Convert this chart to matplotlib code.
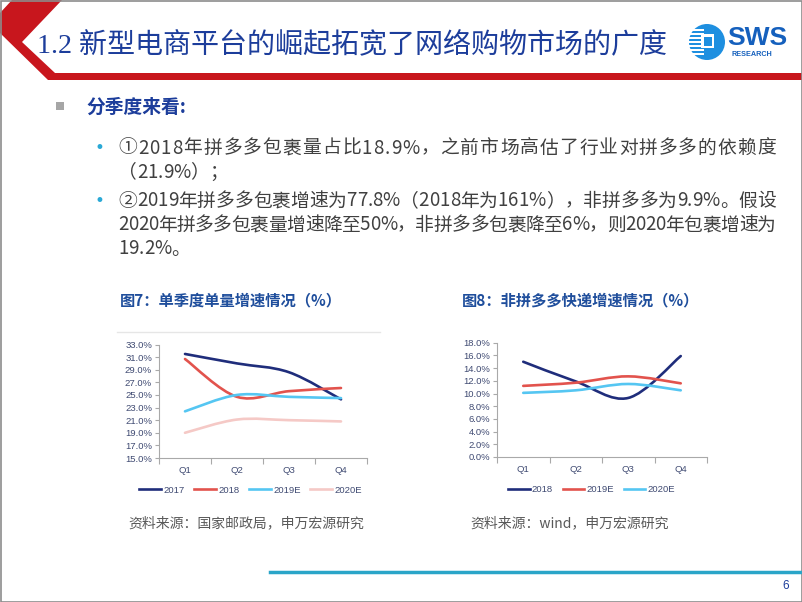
import numpy as np
import matplotlib
matplotlib.use("Agg")
import matplotlib.pyplot as plt
from matplotlib.path import Path
from matplotlib.patches import PathPatch, Polygon, Rectangle, Circle
from matplotlib.lines import Line2D
from matplotlib.font_manager import FontProperties, findfont, get_font

plt.rcParams['font.family'] = ['Noto Sans CJK SC', 'DejaVu Sans']

# ---- data ----
quarters = ["Q1", "Q2", "Q3", "Q4"]

# Fig 7: single-quarter parcel volume growth (%)
fig7_series = ["2017", "2018", "2019E", "2020E"]
fig7_2017 = [31.5, 30.0, 28.6, 24.3]
fig7_2018 = [30.7, 24.7, 25.6, 26.1]
fig7_2019e = [22.4, 25.0, 24.7, 24.5]
fig7_2020e = [19.0, 21.1, 21.0, 20.8]
fig7_ticks = [15, 17, 19, 21, 23, 25, 27, 29, 31, 33]

# Fig 8: non-Pinduoduo express growth (%)
fig8_series = ["2018", "2019E", "2020E"]
fig8_2018 = [15.0, 11.9, 9.3, 15.9]
fig8_2019e = [11.2, 11.7, 12.7, 11.6]
fig8_2020e = [10.1, 10.5, 11.5, 10.5]
fig8_ticks = [0, 2, 4, 6, 8, 10, 12, 14, 16, 18]

title = "1.2 新型电商平台的崛起拓宽了网络购物市场的广度"
heading = "分季度来看:"
body_lines = [
    "①2018年拼多多包裹量占比18.9%，之前市场高估了行业对拼多多的依赖度",
    "（21.9%）；",
    "②2019年拼多多包裹增速为77.8%（2018年为161%），非拼多多为9.9%。假设",
    "2020年拼多多包裹量增速降至50%，非拼多多包裹降至6%，则2020年包裹增速为",
    "19.2%。",
]
body_justify = [True, False, True, True, False]
fig7_title = "图7：单季度单量增速情况（%）"
fig8_title = "图8：非拼多多快递增速情况（%）"
src7 = "资料来源：国家邮政局，申万宏源研究"
src8 = "资料来源：wind，申万宏源研究"

NAVY = "#1f2d7b"
RED = "#e2534d"
CYAN = "#55c6f2"
PINK = "#f5c9c6"
TICK_C = "#3f4a72"
AXIS_C = "#a9a9a9"
BODY_SIZE = 13.5


def smooth_path(xs, ys):
    # Excel-like smoothed line: cubic Bezier segments through the points
    pts = np.column_stack([xs, ys]).astype(float)
    n = len(pts)
    verts = [pts[0]]
    codes = [Path.MOVETO]
    for i in range(n - 1):
        p0 = pts[max(i - 1, 0)]
        p1 = pts[i]
        p2 = pts[i + 1]
        p3 = pts[min(i + 2, n - 1)]
        verts += [p1 + (p2 - p0) / 6, p2 - (p3 - p1) / 6, p2]
        codes += [Path.CURVE4] * 3
    return Path(verts, codes)


def line_chart(ax, series, names, colors, ticks):
    x = np.arange(len(quarters)) + 0.5
    handles = []
    for vals, name, c in zip(series, names, colors):
        ax.add_patch(PathPatch(smooth_path(x, vals), fc="none", ec=c, lw=1.9,
                               capstyle="round", joinstyle="round"))
        handles.append(Line2D([0], [0], color=c, lw=1.9))
    ax.set_xlim(0, len(quarters))
    ax.set_ylim(ticks[0], ticks[-1])
    ax.set_yticks(ticks)
    ax.set_yticklabels([f"{t:.1f}%" for t in ticks], family="Liberation Sans",
                       fontsize=6.8, color=TICK_C)
    ax.set_xticks(x)
    ax.set_xticklabels(quarters, family="Liberation Sans", fontsize=6.8, color=TICK_C)
    ax.set_xticks(np.arange(len(quarters) + 1), minor=True)
    ax.tick_params(axis="x", which="major", length=0, pad=6)
    ax.tick_params(axis="x", which="minor", length=4, color=AXIS_C, width=0.8)
    ax.tick_params(axis="y", length=3, color=AXIS_C, width=0.8, pad=2)
    for s in ["top", "right"]:
        ax.spines[s].set_visible(False)
    for s in ["left", "bottom"]:
        ax.spines[s].set_color(AXIS_C)
        ax.spines[s].set_linewidth(0.8)
    ax.patch.set_alpha(0)
    return handles


# glyph advances for justified body text
body_font = get_font(findfont(FontProperties(family="Noto Sans CJK SC")))
body_font.set_size(BODY_SIZE, 100)


def advances(txt):
    return [body_font.load_char(ord(c)).linearHoriAdvance / 65536 for c in txt]


def body_text(ax, txt, x0, x1, y, justify):
    adv = advances(txt)
    gap = ((x1 - x0) - sum(adv)) / (len(txt) - 1) if justify else 0.0
    x = x0
    for c, a in zip(txt, adv):
        ax.text(x, y, c, fontsize=BODY_SIZE, color="#404040", va="center", ha="left")
        x += a + gap


fig = plt.figure(figsize=(8.02, 6.02), dpi=100)

# full-slide overlay in pixel coordinates
bg = fig.add_axes([0, 0, 1, 1])
bg.set_xlim(0, 802)
bg.set_ylim(602, 0)
bg.axis("off")

# red chevron + header bar
bg.add_patch(Polygon([(12, 0), (62, 0), (22, 42), (55, 73), (802, 73), (802, 80),
                      (48, 80), (0, 33), (0, 13)], closed=True, fc="#c8161d", ec="none"))
bg.text(37, 46, title, fontsize=20.2, color="#1c3d9b", va="center", ha="left",
        family=["Liberation Serif", "Noto Sans CJK SC"])

# SWS logo
bg.add_patch(Circle((707, 42), 18, fc="#1e8fe0", ec="none"))
for yy in range(29, 57, 4):
    bg.add_patch(Rectangle((689, yy), 15, 1.5, fc="white", ec="none"))
bg.add_patch(Rectangle((701, 34), 13, 14, fc="white", ec="none"))
bg.add_patch(Rectangle((703.5, 36.5), 8, 9, fc="#1e8fe0", ec="none"))
bg.text(727, 38, "SWS", fontsize=19, fontweight="bold", color="#1560bd",
        va="center", ha="left", family="Liberation Sans")
bg.text(731, 55, "RESEARCH", fontsize=5.2, fontweight="bold", color="#1560bd",
        va="center", ha="left", family="Liberation Sans")

# heading and bullets
bg.add_patch(Rectangle((56, 102), 8, 8, fc="#a6a6a6", ec="none"))
bg.text(86, 107, heading, fontsize=13.5, fontweight="bold", color="#1c3d9b",
        va="center", ha="left")
line_y = [148, 172, 201, 225, 249]
for txt, yy, just in zip(body_lines, line_y, body_justify):
    body_text(bg, txt, 118, 776, yy, just)
for yy in [148, 201]:
    bg.text(99, yy, "•", fontsize=12, color="#2aa9d6", va="center", ha="center",
            family="DejaVu Sans")

# chart titles and sources
bg.text(120, 300, fig7_title, fontsize=11, fontweight="bold", color="#1f4e9c",
        va="center", ha="left")
bg.text(462, 300, fig8_title, fontsize=11, fontweight="bold", color="#1f4e9c",
        va="center", ha="left")
bg.plot([117, 380], [332, 332], color="#e6e6e6", lw=1)
bg.text(128, 523, src7, fontsize=10, color="#595959", va="center", ha="left")
bg.text(470, 523, src8, fontsize=10, color="#595959", va="center", ha="left")

# footer
bg.plot([270, 802], [572, 572], color="#2aa5c8", lw=2.5)
bg.text(786, 586, "6", fontsize=8.5, color="#1c3d9b", va="center", ha="center",
        family="Liberation Sans")
bg.add_patch(Rectangle((0.5, 0.5), 801, 601, fc="none", ec="#8c8c8c", lw=1.2))

leg_kw = dict(loc="upper center", frameon=False, labelcolor=TICK_C,
              prop={"family": "Liberation Sans", "size": 6.8},
              handlelength=2.3, handletextpad=0.25, columnspacing=1.0)

# Fig 7
ax1 = fig.add_axes([159 / 802, 1 - 458 / 602, 208 / 802, (458 - 344.5) / 602])
h1 = line_chart(ax1, [fig7_2017, fig7_2018, fig7_2019e, fig7_2020e], fig7_series,
                [NAVY, RED, CYAN, PINK], fig7_ticks)
ax1.legend(h1, fig7_series, bbox_to_anchor=(0.44, -0.17), ncol=4, **leg_kw)

# Fig 8
ax2 = fig.add_axes([497 / 802, 1 - 457 / 602, 210 / 802, (457 - 342.7) / 602])
h2 = line_chart(ax2, [fig8_2018, fig8_2019e, fig8_2020e], fig8_series,
                [NAVY, RED, CYAN], fig8_ticks)
ax2.legend(h2, fig8_series, bbox_to_anchor=(0.45, -0.17), ncol=3, **leg_kw)

fig.savefig("out.png", dpi=100)
